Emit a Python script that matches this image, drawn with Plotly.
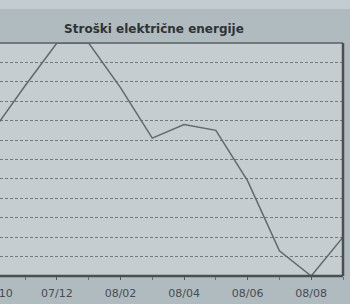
import plotly.graph_objects as go

months = ["07/10", "07/11", "07/12", "08/01", "08/02", "08/03",
          "08/04", "08/05", "08/06", "08/07", "08/08", "08/09"]
costs = [7.5, 9.8, 12.0, 12.0, 9.7, 7.1, 7.8, 7.5, 4.9, 1.3, 0.0, 2.0]
tick_labels = ["07/10", "07/12", "08/02", "08/04", "08/06", "08/08"]
title_text = "Stroški električne energije"

idx = list(range(len(months)))
tick_idx = [months.index(t) for t in tick_labels]

W, H = 350, 304
ml, mr, mt, mb = 0, 7, 43, 28
pw = W - ml - mr
ph = H - mt - mb

x0, x1 = 0.21, 11
fig = go.Figure()
fig.add_trace(go.Scatter(
    x=idx, y=costs, mode="lines",
    line=dict(color="#62696d", width=1.5),
    hoverinfo="skip", showlegend=False, cliponaxis=True,
))

tickfont = dict(family="DejaVu Sans", size=11, color="#464c4f")
fig.update_layout(
    width=W, height=H,
    margin=dict(l=ml, r=mr, t=mt, b=mb, autoexpand=False),
    paper_bgcolor="#b0bbbf",
    plot_bgcolor="#c6cdd0",
    title=dict(text="<b>" + title_text + "</b>", x=154 / W, xanchor="center",
               y=1 - 29 / H, yanchor="middle",
               font=dict(family="DejaVu Sans", size=12, color="#2e3335")),
    xaxis=dict(range=[x0, x1], tickvals=tick_idx, ticktext=tick_labels,
               showgrid=False, zeroline=False, ticks="outside", ticklen=3,
               tickcolor="#55595c", ticklabelstandoff=4,
               minor=dict(ticks="outside", dtick=1, tick0=0, ticklen=3, tickcolor="#6a7074"),
               tickfont=tickfont, automargin=False,
               showline=False, fixedrange=True),
    yaxis=dict(range=[0, 12], dtick=1, showticklabels=False, zeroline=False,
               showgrid=True, gridcolor="#737a7e", gridwidth=1, griddash="3px,2px",
               showline=False, fixedrange=True, automargin=False),
)

# frame: top thin, right and bottom thicker
fig.add_shape(type="line", xref="paper", yref="paper", x0=0, x1=1, y0=1, y1=1,
              line=dict(color="#5a5f62", width=1.5), layer="above")
fig.add_shape(type="line", xref="paper", yref="paper", x0=1, x1=1, y0=0, y1=1,
              line=dict(color="#4a4f52", width=2.5), layer="above")
fig.add_shape(type="line", xref="paper", yref="paper", x0=0, x1=1, y0=0, y1=0,
              line=dict(color="#4a4f52", width=2.5), layer="above")
# light strip at very top
fig.add_shape(type="rect", xref="paper", yref="paper", x0=-0.01, x1=1.03,
              y0=(ph + mt - 9) / ph, y1=(ph + mt) / ph,
              line=dict(width=0), fillcolor="#c3ccd0", layer="below")

# partially visible first tick label
fig.add_annotation(text="07/10", xref="paper", yref="paper",
                   x=(0 - x0) / (x1 - x0) + 4 / pw, y=-17 / ph, xanchor="center", yanchor="middle",
                   showarrow=False, font=tickfont)

fig.write_html("out.html", config={"displayModeBar": False},
               post_script="document.body.style.margin='0';")
